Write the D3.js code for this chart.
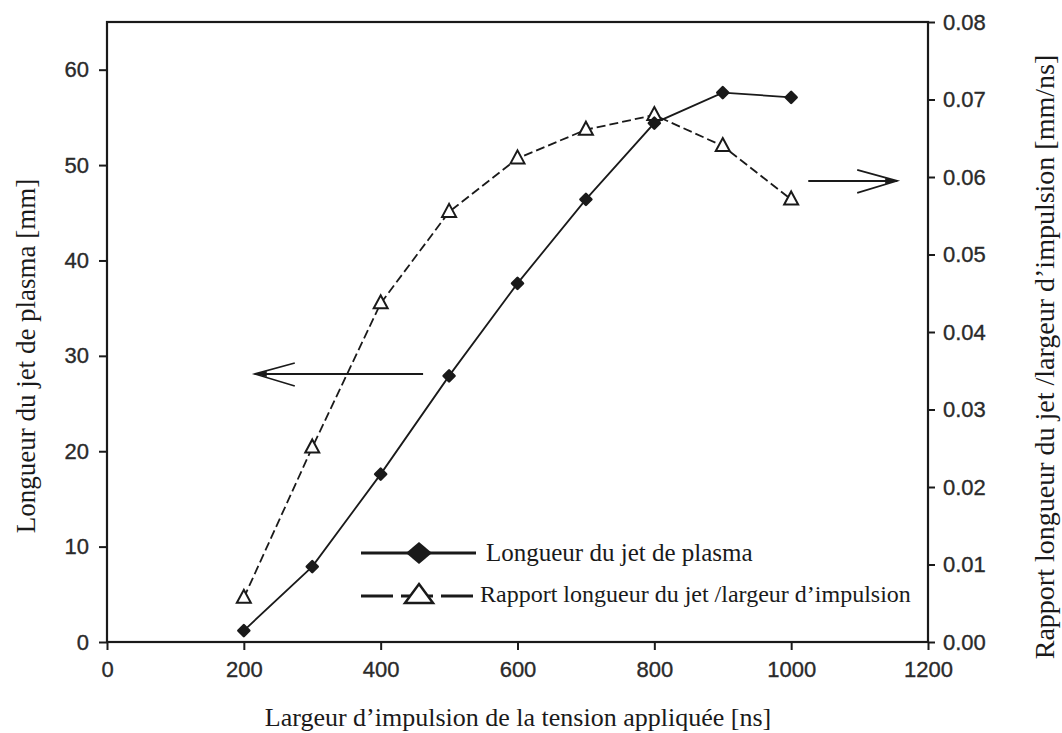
<!DOCTYPE html>
<html>
<head>
<meta charset="utf-8">
<script src="https://cdn.jsdelivr.net/npm/d3@7"></script>
<style>
  html, body { margin: 0; padding: 0; background: #fff; }
  svg { display: block; }
</style>
</head>
<body>
<svg id="chart" width="1062" height="733"></svg>
<script>
// ---------- data ----------
const pulseWidths = [200, 300, 400, 500, 600, 700, 800, 900, 1000];
const jetLength = [1.2, 7.9, 17.6, 27.9, 37.6, 46.4, 54.4, 57.6, 57.1];
const lengthRatio = [0.0057, 0.0251, 0.0437, 0.0555, 0.0624, 0.0661, 0.068, 0.064, 0.0571];
const xTicks = [0, 200, 400, 600, 800, 1000, 1200];
const yLeftTicks = [0, 10, 20, 30, 40, 50, 60];
const yRightTicks = [0, 0.01, 0.02, 0.03, 0.04, 0.05, 0.06, 0.07, 0.08];
const seriesNames = ["Longueur du jet de plasma", "Rapport longueur du jet /largeur d\u2019impulsion"];
const xTitle = "Largeur d\u2019impulsion de la tension appliquée [ns]";
const yLeftTitle = "Longueur du jet de plasma [mm]";
const yRightTitle = "Rapport longueur du jet /largeur d\u2019impulsion [mm/ns]";
// annotation arrows (data coordinates)
const leftArrow = { from: [462, 28.1], to: [216, 28.1] };
const rightArrow = { from: [1025, 0.0595], to: [1155, 0.0595] };

// ---------- layout ----------
const svg = d3.select("#chart");
const L = 107, R = 928, T = 22, B = 642;
const ink = "#1a1a1a";
const x = d3.scaleLinear().domain([0, 1200]).range([L, R]);
const yL = d3.scaleLinear().domain([0, 65]).range([B, T]);
const yR = d3.scaleLinear().domain([0, 0.08]).range([B, T]);

const tickFont = "'Liberation Sans', Arial, sans-serif";
const serif = "'Liberation Serif', 'Times New Roman', serif";

// frame
svg.append("rect").attr("x", L).attr("y", T).attr("width", R - L).attr("height", B - T)
  .attr("fill", "none").attr("stroke", ink).attr("stroke-width", 2.2);

function styleAxis(g) {
  g.select(".domain").remove();
  g.selectAll(".tick line").attr("stroke", ink).attr("stroke-width", 2);
  g.selectAll(".tick text").attr("fill", "#2a2a2a").attr("font-family", tickFont)
    .attr("font-size", 22).attr("stroke", "#2a2a2a").attr("stroke-width", 0.35);
}

svg.append("g").attr("transform", `translate(0,${B})`)
  .call(d3.axisBottom(x).tickValues(xTicks).tickSize(8).tickPadding(11).tickFormat(d3.format("d")))
  .call(styleAxis);

svg.append("g").attr("transform", `translate(${L},0)`)
  .call(d3.axisLeft(yL).tickValues(yLeftTicks).tickSize(8).tickPadding(10).tickFormat(d3.format("d")))
  .call(styleAxis);

svg.append("g").attr("transform", `translate(${R},0)`)
  .call(d3.axisRight(yR).tickValues(yRightTicks).tickSize(7).tickPadding(8).tickFormat(d3.format(".2f")))
  .call(styleAxis);

// titles
svg.append("text").attr("x", 518).attr("y", 726).attr("text-anchor", "middle")
  .attr("font-family", serif).attr("font-size", 26).attr("fill", ink).text(xTitle);
svg.append("text").attr("transform", "translate(35,356) rotate(-90)").attr("text-anchor", "middle")
  .attr("font-family", serif).attr("font-size", 27).attr("fill", ink).text(yLeftTitle);
svg.append("text").attr("transform", "translate(1054,357) rotate(-90)").attr("text-anchor", "middle")
  .attr("font-family", serif).attr("font-size", 28).attr("fill", ink).text(yRightTitle);

// ---------- series ----------
const s1 = pulseWidths.map((w, i) => [x(w), yL(jetLength[i])]);
const s2 = pulseWidths.map((w, i) => [x(w), yR(lengthRatio[i])]);
const line = d3.line();

svg.append("path").attr("d", line(s2)).attr("fill", "none").attr("stroke", ink)
  .attr("stroke-width", 1.8).attr("stroke-dasharray", "9,4");
svg.append("path").attr("d", line(s1)).attr("fill", "none").attr("stroke", ink)
  .attr("stroke-width", 1.8);

function diamondPath(cx, cy, hw, hh) {
  return `M${cx},${cy - hh}L${cx + hw},${cy}L${cx},${cy + hh}L${cx - hw},${cy}Z`;
}
function trianglePath(cx, cy, hw, up, down) {
  return `M${cx},${cy - up}L${cx + hw},${cy + down}L${cx - hw},${cy + down}Z`;
}

svg.append("g").selectAll("path").data(s2).join("path")
  .attr("d", d => trianglePath(d[0], d[1], 7, 8, 5))
  .attr("fill", "#fff").attr("stroke", ink).attr("stroke-width", 2);

svg.append("g").selectAll("path").data(s1).join("path")
  .attr("d", d => diamondPath(d[0], d[1], 5.5, 5.5))
  .attr("fill", ink).attr("stroke", ink).attr("stroke-width", 2.5).attr("stroke-linejoin", "round");

// ---------- arrows ----------
function arrow(a, yScale) {
  const x1 = x(a.from[0]), y1 = yScale(a.from[1]);
  const x2 = x(a.to[0]), y2 = yScale(a.to[1]);
  const dir = Math.sign(x2 - x1);
  svg.append("line").attr("x1", x1).attr("y1", y1).attr("x2", x2).attr("y2", y2)
    .attr("stroke", ink).attr("stroke-width", 2);
  svg.append("path")
    .attr("d", `M${x2 - dir * 40},${y1 - 11}L${x2},${y2}L${x2 - dir * 40},${y1 + 12}`)
    .attr("fill", "none").attr("stroke", ink).attr("stroke-width", 1.6);
  svg.append("path").attr("d", `M${x2},${y2}L${x2 - dir * 12},${y2 - 3}L${x2 - dir * 12},${y2 + 3}Z`)
    .attr("fill", ink);
}
arrow(leftArrow, yL);
arrow(rightArrow, yR);

// ---------- legend ----------
const lg = svg.append("g");
lg.append("line").attr("x1", 361).attr("x2", 476).attr("y1", 553).attr("y2", 553)
  .attr("stroke", ink).attr("stroke-width", 3);
lg.append("path").attr("d", diamondPath(419, 553, 13, 11)).attr("fill", ink);
lg.append("text").attr("x", 486).attr("y", 561).attr("font-family", serif).attr("font-size", 25)
  .attr("fill", ink).text(seriesNames[0]);

lg.append("line").attr("x1", 361).attr("x2", 476).attr("y1", 596).attr("y2", 596)
  .attr("stroke", ink).attr("stroke-width", 3).attr("stroke-dasharray", "32,8");
lg.append("path").attr("d", trianglePath(419, 596, 14, 12, 7))
  .attr("fill", "#fff").attr("stroke", ink).attr("stroke-width", 2.5);
lg.append("text").attr("x", 480).attr("y", 602).attr("font-family", serif).attr("font-size", 24)
  .attr("fill", ink).text(seriesNames[1]);
</script>
</body>
</html>
